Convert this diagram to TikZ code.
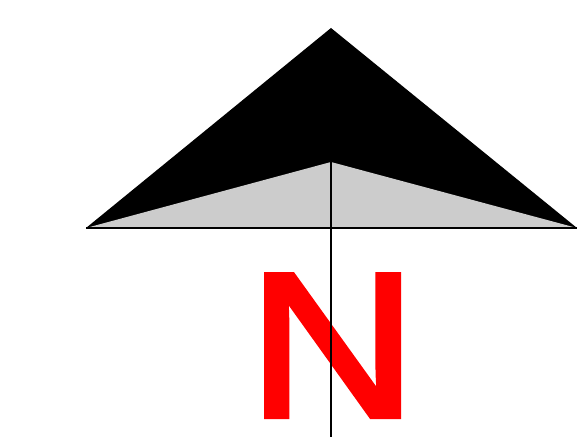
\documentclass[tikz,border=0pt]{standalone}
\usepackage{fontspec}
\setmainfont{Liberation Sans}
\newfontfamily\northfont[FakeBold=2.5]{Liberation Sans}
\usepackage{xcolor}
\usetikzlibrary{positioning, calc}
\definecolor{cROOF}{HTML}{000000}
\definecolor{cUNDER}{HTML}{CCCCCC}
\definecolor{cNORTH}{HTML}{FF0000}
\tikzset{
  roofline/.style={line width=2.6pt, line join=miter},
  mastline/.style={line width=2pt}
}

\begin{document}
\begin{tikzpicture}[x=1pt, y=-1pt]
  \useasboundingbox (0,0) rectangle (582,446);
  % Key points of the arrow head
  \coordinate (west) at (86,228);
  \coordinate (east) at (577,228);
  \coordinate (tip) at (331,28);
  \coordinate (notch) at (331,162);
  \coordinate (foot) at (331,437);

  % North letter
  \node[cNORTH, anchor=base, inner sep=0pt, xscale=1.14] (north) at (332.5,416.5)
    {\fontsize{206}{206}\selectfont\northfont N};

  % Black upper half and grey lower half
  \fill[cROOF] (west) -- (tip) -- (east) -- cycle;
  \fill[cUNDER] (west) -- (notch) -- (east) -- cycle;
  \draw[roofline] (west) -- (east);

  % Mast
  \draw[mastline] (notch) -- (foot);
\end{tikzpicture}
\end{document}
